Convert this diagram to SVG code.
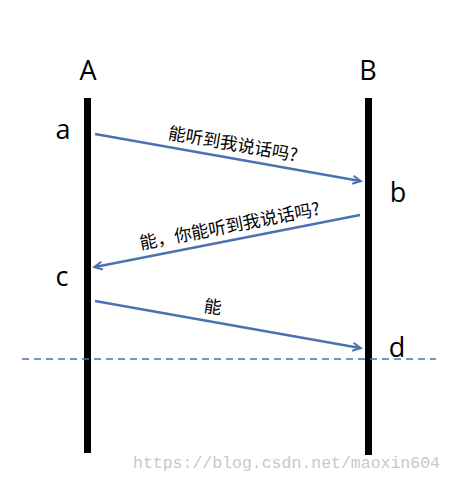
<svg xmlns="http://www.w3.org/2000/svg" width="456" height="483" viewBox="0 0 456 483">
<style>
.life{stroke:#000;stroke-width:7}
.msg{stroke:#4a72b0;stroke-width:2.5;fill:none}
.lbl{font-family:"Open Sans","Liberation Sans",sans-serif;font-size:27px;fill:#000;text-anchor:middle}
.cn{font-family:"Noto Sans CJK SC","Noto Sans",sans-serif;font-size:17.5px;fill:#000;text-anchor:middle}
.wm{font-family:"Liberation Mono",monospace;font-size:16.5px;fill:#c8c8c8}
</style>
<defs>
<marker id="ah" viewBox="0 0 10 10" refX="9" refY="5" markerWidth="8" markerHeight="8" orient="auto" markerUnits="userSpaceOnUse" overflow="visible">
<path d="M0,0 L10,5 L0,10" fill="none" stroke="#4a72b0" stroke-width="2.5"/>
</marker>
</defs>
<rect width="456" height="483" fill="#fff"/>
<g id="nodeA">
<line class="life" x1="87.5" y1="98" x2="87.5" y2="453"/>
<text class="lbl" x="88" y="80">A</text>
</g>
<g id="nodeB">
<line class="life" x1="368.5" y1="98" x2="368.5" y2="455"/>
<text class="lbl" x="368" y="80">B</text>
</g>
<g id="labels">
<text class="lbl" x="63" y="139">a</text>
<text class="lbl" x="398" y="202">b</text>
<text class="lbl" x="62" y="286">c</text>
<text class="lbl" x="397" y="357">d</text>
</g>
<g id="connectors">
<line class="msg" x1="95" y1="134" x2="360" y2="181" marker-end="url(#ah)"/>
<line class="msg" x1="360" y1="215" x2="95" y2="267" marker-end="url(#ah)"/>
<line class="msg" x1="95" y1="301" x2="360" y2="348" marker-end="url(#ah)"/>
<line x1="22" y1="359" x2="436" y2="359" stroke="#4a72b0" stroke-width="1.5" stroke-dasharray="7,5"/>
</g>
<g id="msgtexts">
<text class="cn" transform="translate(232,150) rotate(10)">能听到我说话吗?</text>
<text class="cn" transform="translate(231,232) rotate(-11)">能，你能听到我说话吗?</text>
<text class="cn" transform="translate(212,313) rotate(8)">能</text>
</g>
<text class="wm" x="133" y="468">https://blog.csdn.net/maoxin604</text>
</svg>
